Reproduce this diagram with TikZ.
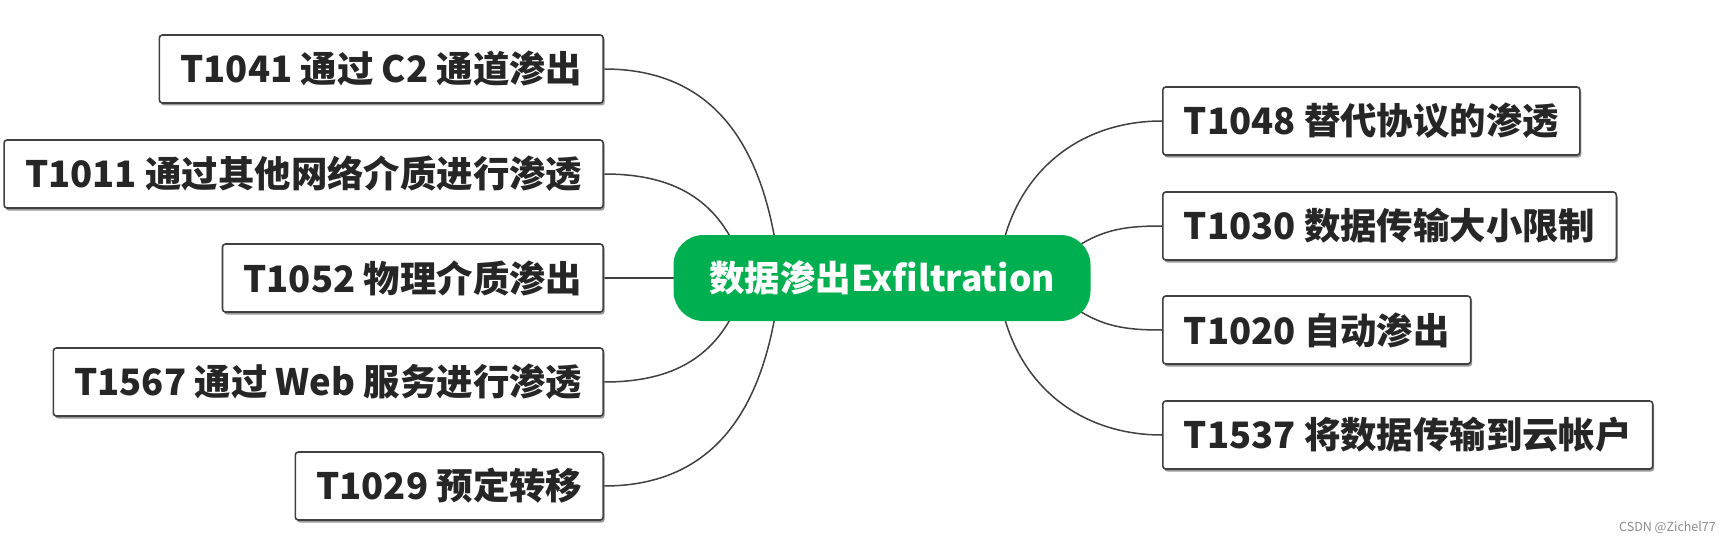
\documentclass[tikz,border=0pt]{standalone}
\usepackage{fontspec}
\setmainfont{Noto Sans CJK SC}
\usetikzlibrary{positioning,shadows,backgrounds,calc}
\definecolor{hubgreen}{RGB}{0,175,80}
\definecolor{inkgray}{RGB}{38,38,38}
\definecolor{edgegray}{RGB}{64,64,64}

\begin{document}
\begin{tikzpicture}[
  x=1pt, y=1pt,
  font=\bfseries\fontsize{36.4}{44}\selectfont,
  hub/.style={draw=none, fill=hubgreen, rounded corners=30pt, minimum width=417pt, minimum height=86pt, text=white, font=\bfseries\fontsize{35.5}{43}\selectfont},
  tech/.style={draw=edgegray, line width=1.6pt, rounded corners=3pt, fill=white, text=inkgray, minimum height=68pt, inner xsep=21pt,
    drop shadow={shadow xshift=1.5pt, shadow yshift=-2.5pt, fill=black!40, opacity=1}},
  link/.style={draw=edgegray, line width=1.5pt}
]
\useasboundingbox (0,0) rectangle (1729,542);

% ---------------- central topic ----------------
\node[hub] (hub) at (882,264) {数据渗出Exfiltration};

% ---------------- left branch ----------------
\node[tech, anchor=east] (c2)    at (604,473) {T1041 通过 C2 通道渗出};
\node[tech, anchor=east] (netm)  at (604,368) {T1011 通过其他网络介质进行渗透};
\node[tech, anchor=east] (phys)  at (604,264) {T1052 物理介质渗出};
\node[tech, anchor=east] (web)   at (604,160) {T1567 通过 Web 服务进行渗透};
\node[tech, anchor=east] (sched) at (604,56)  {T1029 预定转移};

% ---------------- right branch ----------------
\node[tech, anchor=west] (alt)   at (1162,421) {T1048 替代协议的渗透};
\node[tech, anchor=west] (size)  at (1162,316) {T1030 数据传输大小限制};
\node[tech, anchor=west] (auto)  at (1162,212) {T1020 自动渗出};
\node[tech, anchor=west] (cloud) at (1162,107) {T1537 将数据传输到云帐户};

\node[anchor=east, inner sep=0pt, text=black!45, font=\fontsize{12.5}{14}\selectfont] (wm) at (1716,14) {CSDN @Zichel77};

% connectors start inside the hub, hidden behind it
\begin{scope}[on background layer]
  \draw[link] ($(hub.center)+(-107,38)$) to[out=100, in=0, looseness=1.1] (c2.east);
  \draw[link] ($(hub.center)+(-150,38)$) to[out=118, in=0] (netm.east);
  \draw[link] (hub.center) -- (phys.east);
  \draw[link] ($(hub.center)+(-150,-38)$) to[out=-118, in=0] (web.east);
  \draw[link] ($(hub.center)+(-107,-38)$) to[out=-100, in=0, looseness=1.1] (sched.east);

  \draw[link] ($(hub.center)+(122,38)$) to[out=75, in=180] (alt.west);
  \draw[link] ($(hub.center)+(190,28)$) to[out=35, in=180] (size.west);
  \draw[link] ($(hub.center)+(190,-28)$) to[out=-35, in=180] (auto.west);
  \draw[link] ($(hub.center)+(122,-38)$) to[out=-75, in=180] (cloud.west);
\end{scope}

\end{tikzpicture}
\end{document}
